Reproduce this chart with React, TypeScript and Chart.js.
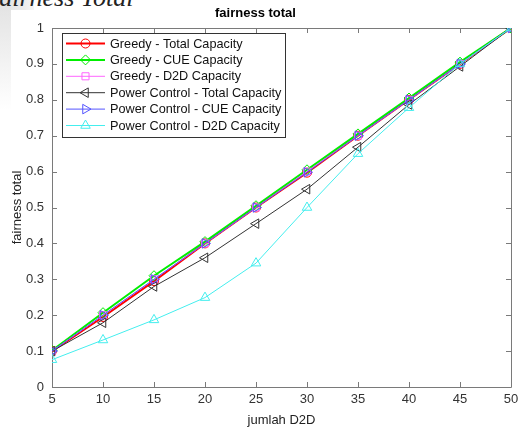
import React, { useEffect, useRef } from "react";
import { Chart, registerables } from "chart.js";

Chart.register(...registerables);

const xValues = [5, 10, 15, 20, 25, 30, 35, 40, 45, 50];
const yTickLabels = ["0", "0.1", "0.2", "0.3", "0.4", "0.5", "0.6", "0.7", "0.8", "0.9", "1"];

const greedyTotal = [0.1, 0.195, 0.295, 0.4, 0.5, 0.597, 0.7, 0.8, 0.9, 1.0];
const greedyCUE = [0.102, 0.207, 0.31, 0.405, 0.505, 0.605, 0.705, 0.805, 0.905, 1.0];
const greedyD2D = [0.1, 0.2, 0.3, 0.4, 0.5, 0.6, 0.7, 0.8, 0.9, 1.0];
const pcTotal = [0.1, 0.179, 0.28, 0.36, 0.455, 0.551, 0.668, 0.787, 0.893, 1.0];
const pcCUE = [0.1, 0.2, 0.3, 0.4, 0.5, 0.598, 0.7, 0.8, 0.9, 1.0];
const pcD2D = [0.076, 0.131, 0.187, 0.249, 0.345, 0.5, 0.65, 0.778, 0.9, 1.0];

const seriesLabels = [
  "Greedy - Total Capacity",
  "Greedy - CUE Capacity",
  "Greedy - D2D Capacity",
  "Power Control - Total Capacity",
  "Power Control - CUE Capacity",
  "Power Control - D2D Capacity",
];
const seriesValues = [greedyTotal, greedyCUE, greedyD2D, pcTotal, pcCUE, pcD2D];
const seriesColors = ["#ff0000", "#00ee00", "#ff66ff", "#333333", "#5555ff", "#44eeee"];
const seriesWidths = [2, 2, 1, 1, 1, 1];
const seriesMarkers = ["circle", "rectRot", "rect", "triangle", "triangle", "triangle"];
const seriesRotations = [0, 0, 0, -90, 90, 0];
const seriesRadius = [4.5, 5, 5, 5.5, 5.5, 5.5];

const TITLE = "fairness total";
const X_TITLE = "jumlah D2D";
const Y_TITLE = "fairness total";
const FONT = "'Liberation Sans', Arial, sans-serif";

function drawMarker(ctx: CanvasRenderingContext2D, style: string, x: number, y: number, r: number, rotDeg: number) {
  let rad = (rotDeg * Math.PI) / 180;
  ctx.beginPath();
  if (style === "circle") {
    ctx.arc(x, y, r, 0, Math.PI * 2);
  } else if (style === "rectRot") {
    ctx.moveTo(x, y - r);
    ctx.lineTo(x + r, y);
    ctx.lineTo(x, y + r);
    ctx.lineTo(x - r, y);
    ctx.closePath();
  } else if (style === "rect") {
    const s = r * Math.SQRT1_2;
    ctx.rect(x - s, y - s, 2 * s, 2 * s);
  } else {
    for (let i = 0; i < 3; i++) {
      const px = x + Math.sin(rad) * r;
      const py = y - Math.cos(rad) * r;
      if (i === 0) ctx.moveTo(px, py);
      else ctx.lineTo(px, py);
      rad += (2 * Math.PI) / 3;
    }
    ctx.closePath();
  }
  ctx.stroke();
}

const framePlugin = {
  id: "frame",
  beforeDatasetsDraw(chart: any) {
    const { ctx, chartArea } = chart;
    const { left, right, top, bottom } = chartArea;
    const xs = chart.scales.x;
    const ys = chart.scales.y;
    ctx.save();
    ctx.strokeStyle = "#7a7a7a";
    ctx.lineWidth = 1;
    ctx.beginPath();
    ctx.rect(Math.round(left) + 0.5, Math.round(top) + 0.5, Math.round(right - left), Math.round(bottom - top));
    ctx.stroke();
    const tl = 5;
    ctx.beginPath();
    xValues.forEach((v) => {
      const px = Math.round(xs.getPixelForValue(v)) + 0.5;
      ctx.moveTo(px, bottom);
      ctx.lineTo(px, bottom - tl);
      ctx.moveTo(px, top);
      ctx.lineTo(px, top + tl);
    });
    yTickLabels.forEach((l) => {
      const py = Math.round(ys.getPixelForValue(parseFloat(l))) + 0.5;
      ctx.moveTo(left, py);
      ctx.lineTo(left + tl, py);
      ctx.moveTo(right, py);
      ctx.lineTo(right - tl, py);
    });
    ctx.stroke();
    ctx.restore();
  },
  afterDraw(chart: any) {
    const { ctx } = chart;
    const bx = 62, by = 33, bw = 223, bh = 104;
    ctx.save();
    ctx.fillStyle = "#ffffff";
    ctx.fillRect(bx, by, bw, bh);
    ctx.strokeStyle = "#333333";
    ctx.lineWidth = 1;
    ctx.strokeRect(bx + 0.5, by + 0.5, bw, bh);
    ctx.font = `12.7px ${FONT}`;
    ctx.textBaseline = "middle";
    ctx.textAlign = "left";
    seriesLabels.forEach((label, i) => {
      const cy = 43.5 + i * 16.4;
      ctx.strokeStyle = seriesColors[i];
      ctx.lineWidth = seriesWidths[i];
      ctx.beginPath();
      ctx.moveTo(66, cy);
      ctx.lineTo(105, cy);
      ctx.stroke();
      ctx.lineWidth = 1;
      drawMarker(ctx, seriesMarkers[i], 85.5, cy, seriesRadius[i], seriesRotations[i]);
      ctx.fillStyle = "#111111";
      ctx.fillText(label, 110, cy + 0.5);
    });
    ctx.restore();
  },
};

export default function App() {
  const ref = useRef<HTMLCanvasElement | null>(null);

  useEffect(() => {
    if (!ref.current) return;
    const datasets = seriesLabels.map((label, i) => ({
      label,
      data: xValues.map((x, j) => ({ x, y: seriesValues[i][j] })),
      borderColor: seriesColors[i],
      backgroundColor: "rgba(0,0,0,0)",
      borderWidth: seriesWidths[i],
      pointStyle: seriesMarkers[i] as any,
      rotation: seriesRotations[i],
      pointRadius: seriesRadius[i],
      pointBorderColor: seriesColors[i],
      pointBackgroundColor: "rgba(0,0,0,0)",
      pointBorderWidth: 1,
      tension: 0,
      fill: false,
      order: 10 - i,
    }));
    const chart = new Chart(ref.current, {
      type: "line",
      data: { datasets },
      plugins: [framePlugin],
      options: {
        animation: false,
        responsive: false,
        devicePixelRatio: 1,
        layout: { padding: { left: 0, right: 14, top: 0, bottom: 0 } },
        plugins: {
          legend: { display: false },
          tooltip: { enabled: false },
          title: {
            display: true,
            text: TITLE,
            color: "#000000",
            font: { family: FONT, size: 13, weight: "bold" },
            padding: { top: 6, bottom: 6.4 },
          },
        },
        scales: {
          x: {
            type: "linear",
            min: 5,
            max: 50,
            afterFit: (s: any) => {
              s.height = 44;
            },
            afterBuildTicks: (s: any) => {
              s.ticks = xValues.map((v) => ({ value: v }));
            },
            ticks: {
              color: "#333333",
              font: { family: FONT, size: 13 },
              padding: 5,
              maxRotation: 0,
              autoSkip: false,
              callback: (v: any) => String(v),
            },
            grid: { display: false, drawTicks: false },
            border: { display: false },
            title: {
              display: true,
              text: X_TITLE,
              color: "#222222",
              font: { family: FONT, size: 13 },
              padding: { top: 0, bottom: 3 },
            },
          },
          y: {
            type: "linear",
            min: 0,
            max: 1,
            afterFit: (s: any) => {
              s.width = 52;
            },
            afterBuildTicks: (s: any) => {
              s.ticks = yTickLabels.map((l) => ({ value: parseFloat(l) }));
            },
            ticks: {
              color: "#333333",
              font: { family: FONT, size: 13 },
              padding: 8,
              autoSkip: false,
              callback: (v: any) => yTickLabels[Math.round(Number(v) * 10)],
            },
            grid: { display: false, drawTicks: false },
            border: { display: false },
            title: {
              display: true,
              text: Y_TITLE,
              color: "#222222",
              font: { family: FONT, size: 13 },
              padding: { top: 10, bottom: 0 },
            },
          },
        },
      },
    });
    return () => chart.destroy();
  }, []);

  return (
    <div style={{ position: "fixed", left: 0, top: 0, width: 525, height: 431, background: "#ffffff", overflow: "hidden" }}>
      <div style={{ position: "absolute", left: 0, top: 0, width: 34, height: 10, background: "linear-gradient(to right, #e2e2e2, #ececec 70%, #f6f6f6)" }} />
      <div style={{ position: "absolute", left: 0, top: 0, width: 11, height: 110, background: "linear-gradient(to bottom, #e2e2e2, #ffffff)" }} />
      <div
        style={{
          position: "absolute",
          left: -8,
          top: -15,
          fontFamily: "'Liberation Serif', 'Times New Roman', serif",
          fontStyle: "italic",
          fontSize: 26,
          color: "#222222",
          whiteSpace: "nowrap",
          lineHeight: "26px",
        }}
      >
        fairness Total
      </div>
      <canvas ref={ref} width={525} height={431} style={{ position: "absolute", left: 0, top: 0, width: 525, height: 431 }} />
    </div>
  );
}
